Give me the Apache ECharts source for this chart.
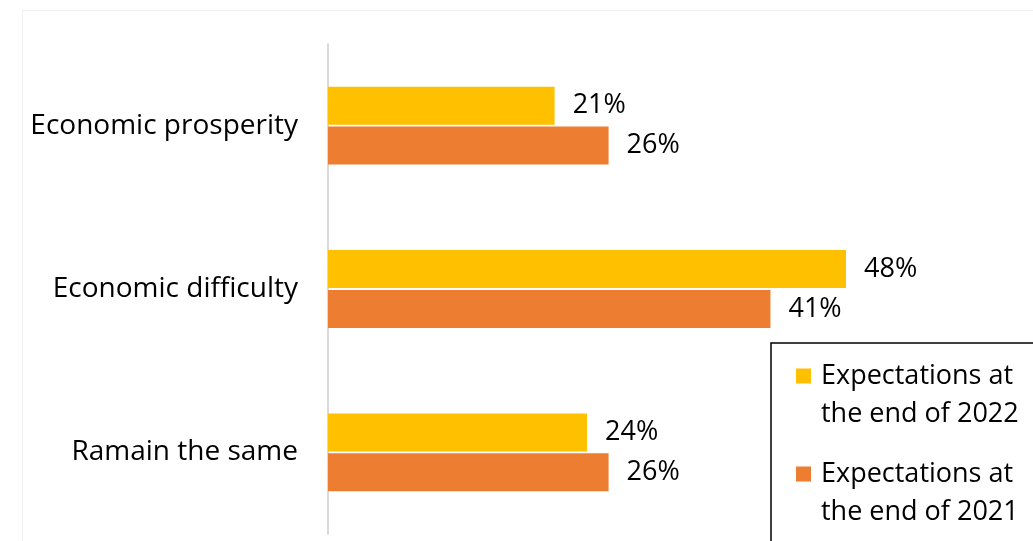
<!DOCTYPE html>
<html>
<head>
<meta charset="utf-8">
<script src="https://cdn.jsdelivr.net/npm/echarts@6/dist/echarts.min.js"></script>
<style>
html,body{margin:0;padding:0;background:#fff;}
#c{width:1033px;height:541px;}
</style>
</head>
<body>
<div id="c"></div>
<script>
var categories = ['Economic prosperity', 'Economic difficulty', 'Ramain the same'];
var seriesNames = ['Expectations at\nthe end of 2022', 'Expectations at\nthe end of 2021'];
var values2022 = [21, 48, 24];
var values2021 = [26, 41, 26];

var FONT = 'Open Sans';
var FS = 27;
var chart = echarts.init(document.getElementById('c'));
var labelCfg = {
  show: true, position: 'right', distance: 18,
  formatter: function (p) { return p.value + '%'; },
  color: '#000', fontSize: FS, fontFamily: FONT
};
var iconPath = 'path://M0 0 L15 0 L15 15 L0 15 Z M0 53 L20 53 L0 53 Z';
chart.setOption({
  animation: false,
  backgroundColor: '#fff',
  graphic: [{
    type: 'rect', left: 20, top: 8, shape: { width: 1040, height: 560 },
    style: { fill: 'none', stroke: '#f0f0f0', lineWidth: 1 }, silent: true, z: -1
  }],
  grid: { left: 328, right: 57.5, top: 44, bottom: 7, containLabel: false },
  xAxis: {
    type: 'value', min: 0, max: 60, show: false
  },
  yAxis: {
    type: 'category', data: categories, inverse: true,
    axisLine: { show: true, lineStyle: { color: '#d9d9d9', width: 2 } },
    axisTick: { show: false },
    axisLabel: { color: '#000', fontSize: 28, fontFamily: FONT, margin: 30 }
  },
  legend: {
    orient: 'vertical', left: 771, top: 343, height: 400,
    borderColor: '#000', borderWidth: 1.5,
    padding: [14, 20, 20, 25],
    itemWidth: 20, itemHeight: 53, itemGap: 22, icon: iconPath,
    itemStyle: { borderWidth: 0 },
    textStyle: { color: '#000', fontSize: FS, fontFamily: FONT, lineHeight: 38 },
    data: seriesNames
  },
  series: [
    { name: seriesNames[0], type: 'bar', data: values2022, barWidth: 38, barGap: '5%',
      itemStyle: { color: '#FFC000' }, label: labelCfg },
    { name: seriesNames[1], type: 'bar', data: values2021, barWidth: 38, barGap: '5%',
      itemStyle: { color: '#ED7D31' }, label: labelCfg }
  ]
});
</script>
</body>
</html>
